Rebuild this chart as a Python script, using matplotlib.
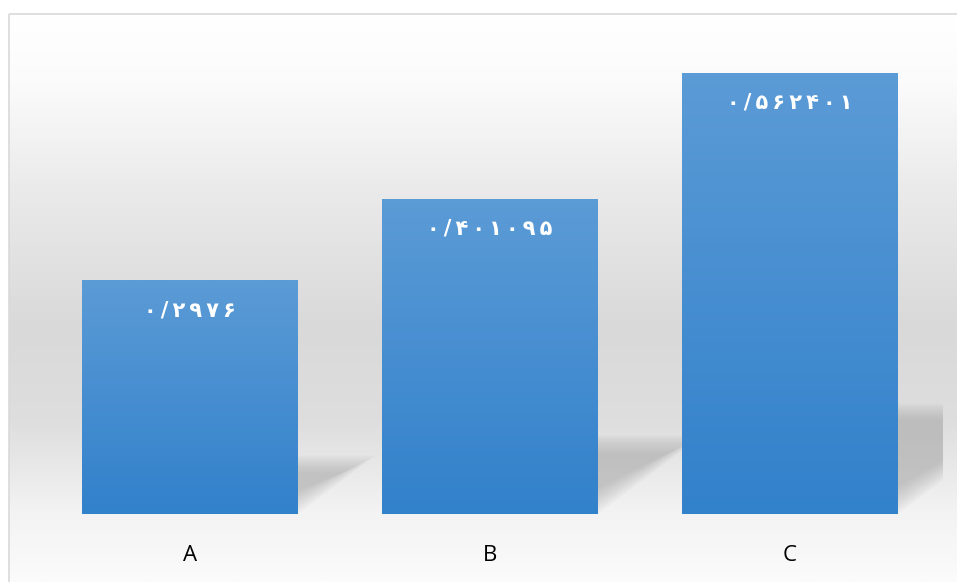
import matplotlib
matplotlib.use("Agg")
import numpy as np
import matplotlib.pyplot as plt
from matplotlib.patches import Rectangle, Polygon
from matplotlib.colors import LinearSegmentedColormap

categories = ["A", "B", "C"]
values = [0.2976, 0.401095, 0.562401]
value_labels = ["۰/۲۹۷۶", "۰/۴۰۱۰۹۵", "۰/۵۶۲۴۰۱"]

W, H = 957, 582
fig = plt.figure(figsize=(W / 100, H / 100), dpi=100)

# background of the chart area (gradient white -> gray -> light)
bg = fig.add_axes([0, 0, 1, 1])
bg.set_xlim(0, W)
bg.set_ylim(H, 0)
bg.axis("off")
bg_cmap = LinearSegmentedColormap.from_list(
    "bg", [(0.0, "#ffffff"), (0.12, "#fbfbfb"), (0.3, "#ebebeb"),
           (0.55, "#d9d9d9"), (0.72, "#dedede"), (0.88, "#f3f3f3"), (1.0, "#fbfbfb")])
grad = np.linspace(0, 1, 300).reshape(-1, 1)
bg.imshow(grad, cmap=bg_cmap, aspect="auto", extent=(9, W + 5, H, 14), zorder=0)
bg.add_patch(Rectangle((9, 14), W, H, fill=False, edgecolor="#d9d9d9", linewidth=1.2, zorder=1))

left, right, bottom, top = 40, 943, 514, 43
ax = fig.add_axes([left / W, 1 - bottom / H, (right - left) / W, (bottom - top) / H])
ax.patch.set_alpha(0)
for s in ax.spines.values():
    s.set_visible(False)
ax.set_yticks([])
ax.set_xticks(range(len(categories)))
ax.set_xticklabels(categories, fontsize=16, family="Open Sans")
ax.tick_params(axis="x", length=0, pad=22)

bar_w = 0.717
shear = 0.87
bar_cmap = LinearSegmentedColormap.from_list("bar", ["#3281cb", "#5b9bd6"])

for i, v in enumerate(values):
    x0, x1 = i - bar_w / 2, i + bar_w / 2
    # soft cast shadow
    for k in range(10):
        d = k * 0.006
        pts = [(x0 + d, 0), (x1 - d * 1.5, 0 + d * 0.3),
               (x1 + shear * v - d * 2, 0.25 * v - d * 0.4),
               (x0 + shear * v, 0.25 * v - d * 0.4)]
        ax.add_patch(Polygon(pts, closed=True, facecolor="#a8a8a8", edgecolor="none",
                             alpha=0.08, zorder=1))
    # bar with vertical gradient
    bar = ax.bar(i, v, width=bar_w, color="none", zorder=2)[0]
    im = ax.imshow(np.linspace(0, 1, 100).reshape(-1, 1), cmap=bar_cmap, origin="lower",
                   aspect="auto", extent=(x0, x1, 0, v), zorder=2)
    im.set_clip_path(bar)
    ax.text(i, v - 0.025, "\u2009".join(value_labels[i]), ha="center", va="top",
            color="white", fontsize=15, fontweight="bold", family="DejaVu Sans", zorder=3)

ax.set_xlim(-0.5, 2.51)
ax.set_ylim(0, 0.6)

plt.savefig("out.png", dpi=100)
